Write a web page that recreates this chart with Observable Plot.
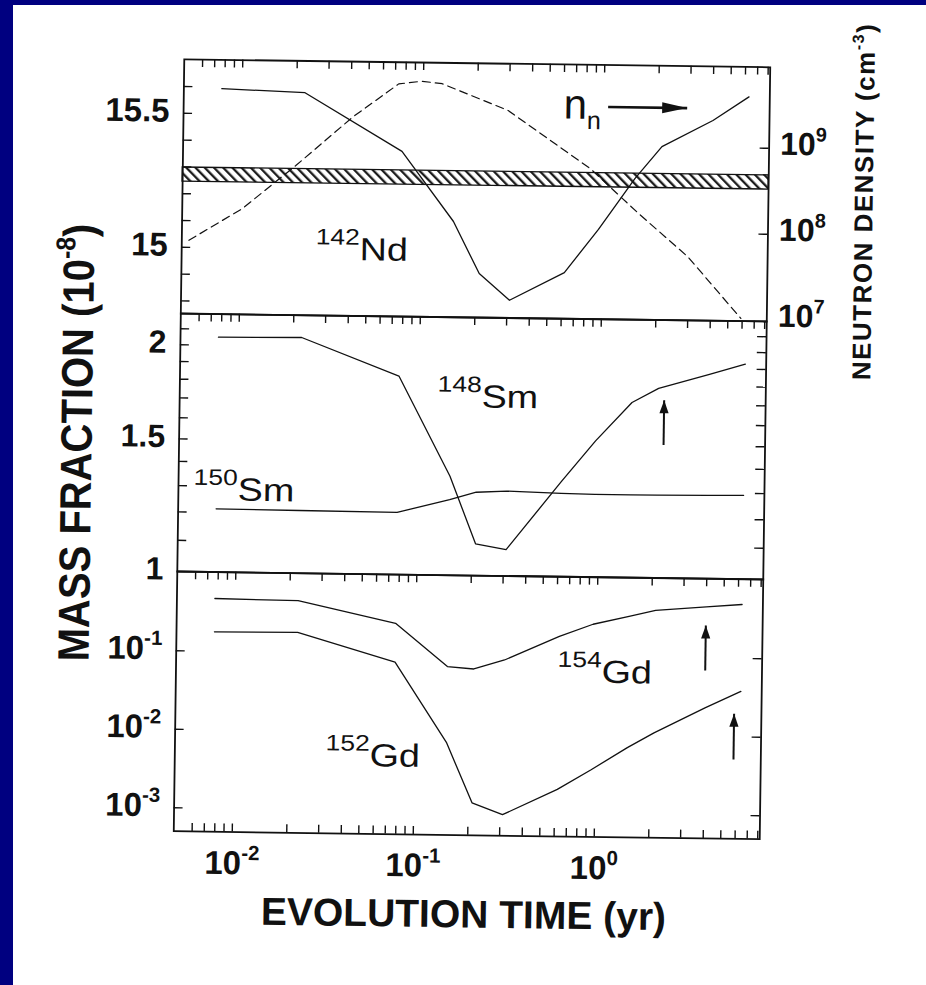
<!DOCTYPE html>
<html><head><meta charset="utf-8">
<script src="https://cdn.jsdelivr.net/npm/d3@7"></script>
<script src="https://cdn.jsdelivr.net/npm/@observablehq/plot@0.6"></script>
<style>
html,body{margin:0;padding:0;background:#fff;}
#page{position:relative;width:926px;height:985px;background:#fff;overflow:hidden;}
#bt{position:absolute;left:0;top:0;width:926px;height:5px;background:#000080;}
#bl{position:absolute;left:0;top:0;width:13px;height:985px;background:#000080;}
#fig{position:absolute;left:0;top:0;width:926px;height:985px;transform-origin:471.5px 448.75px;transform:rotate(0.78deg);}
#fig svg{position:absolute;left:0;top:0;}
</style></head><body>
<div id="page"><div id="fig"></div><div id="bt"></div><div id="bl"></div></div>
<script>
// ---------------- data ----------------
const time   = [0.0077, 0.0222, 0.077, 0.15, 0.21, 0.31, 0.62, 0.95, 1.5, 2.1, 4.0, 6.3];
const nd142  = [15.594, 15.583, 15.369, 15.11, 14.917, 14.819, 14.925, 15.088, 15.28, 15.40, 15.50, 15.59];
const sm148  = [2.05, 2.055, 1.834, 1.353, 1.102, 1.084, 1.338, 1.517, 1.708, 1.785, 1.868, 1.93];
const sm150  = [1.213, 1.211, 1.209, 1.26, 1.29, 1.296, 1.29, 1.288, 1.288, 1.288, 1.29, 1.292];
const gd154  = [0.47, 0.456, 0.244, 0.070, 0.066, 0.087, 0.178, 0.257, 0.328, 0.397, 0.447, 0.487];
const gd152  = [0.177, 0.180, 0.078, 0.0076, 0.0013, 0.00093, 0.0020, 0.0036, 0.0070, 0.0109, 0.0231, 0.038];
const nTime    = [0.0052, 0.0102, 0.02, 0.041, 0.073, 0.098, 0.127, 0.295, 0.49, 0.85, 1.58, 2.98, 5.9];
const nDensity = [6.9e7, 1.64e8, 5.3e8, 1.99e9, 4.9e9, 5.3e9, 5.0e9, 2.5e9, 1.2e9, 5.4e8, 1.66e8, 5.3e7, 1.04e7];
const hatchBand = [15.245, 15.298];

// ticks and tick labels
const xTickValues = [0.006,0.007,0.008,0.009,0.01,0.02,0.03,0.04,0.05,0.06,0.07,0.08,0.09,0.1,0.2,0.3,0.4,0.5,0.6,0.7,0.8,0.9,1,2,3,4,5,6,7,8];
const xLabelValues = [0.01, 0.1, 1];
const xLabelText = ["10^{-2}", "10^{-1}", "10^{0}"];
const ndTicks = [14.8, 14.9, 15.0, 15.1, 15.2, 15.3, 15.4, 15.5, 15.6];
const ndLabelValues = [15, 15.5];
const ndLabelText = ["15", "15.5"];
const densTicks = [1e8, 1e9];
const densLabelValues = [1e7, 1e8, 1e9];
const densLabelText = ["10^{7}", "10^{8}", "10^{9}"];
const smTicks = [1.1, 1.2, 1.3, 1.4, 1.5, 1.6, 1.7, 1.8, 1.9, 2.0, 2.1];
const smLabelValues = [1, 1.5, 2];
const smLabelText = ["1", "1.5", "2"];
const gdTicks = [0.001, 0.01, 0.1];
const gdLabelText = ["10^{-3}", "10^{-2}", "10^{-1}"];

// annotations (data coordinates)
const isoT     = [0.0261, 0.1262, 0.00576, 0.6087, 0.0323];
const isoV     = [14.961, 1.672, 1.245, 0.0463, 0.00366];
const isoText  = ["^{142}Nd", "^{148}Sm", "^{150}Sm", "^{154}Gd", "^{152}Gd"];
const isoPanel = ["A", "B", "B", "C", "C"];
const nnLabel = {t: 0.597, v: 15.50, text: "n_{n}"};
const nnArrow = {from: 1.052, to: 2.875, v: 15.545};
const smArrowT = [2.257], smArrowFrom = [1.502], smArrowTo = [1.722];
const gdArrowT = [3.987, 5.80], gdArrowFrom = [0.0692, 0.00514], gdArrowTo = [0.259, 0.0197];

const titleY = "MASS FRACTION (10^{-8})";
const titleY2 = "NEUTRON DENSITY (cm^{-3})";
const titleX = "EVOLUTION TIME (yr)";

// ---------------- layout ----------------
const W = 926, H = 985;
const FL = 178.5, FR = 764.5;
const PA = [62.75, 317], PB = [317, 575], PC = [575, 834.75];
const xDomain = [0.004751, 8.21];
const INK = "#111";
const FONT = "'Liberation Sans', Arial, Helvetica, sans-serif";
const FW = FR - FL;

const triUp = {draw(ctx) { ctx.moveTo(0, 0); ctx.lineTo(4.6, 13); ctx.lineTo(-4.6, 13); ctx.closePath(); }};
const triRight = {draw(ctx) { ctx.moveTo(0, 0); ctx.lineTo(-25, -5.5); ctx.lineTo(-25, 5.5); ctx.closePath(); }};

function base(p, y, marks) {
  return Plot.plot({
    width: W, height: H,
    marginLeft: FL, marginRight: W - FR, marginTop: p[0], marginBottom: H - p[1],
    style: {background: "transparent", overflow: "visible", fontFamily: FONT},
    x: {type: "log", domain: xDomain, axis: null},
    y: {...y, axis: null},
    marks
  });
}
const series = (xs, ys) => xs.map((t, i) => ({t, v: ys[i]}));
const topTicks = (p) => Plot.tickX(xTickValues, {x: d => d, insetBottom: (p[1] - p[0]) - 8, stroke: INK, strokeWidth: 1.4});
const leftTicks = (vals) => Plot.tickY(vals, {y: d => d, insetRight: FW - 9, stroke: INK, strokeWidth: 1.4});
const rightTicks = (vals) => Plot.tickY(vals, {y: d => d, insetLeft: FW - 9, stroke: INK, strokeWidth: 1.4});
const leftLabels = (vals, txt, fs) => Plot.text(vals, {y: d => d, text: (d, i) => txt[i], frameAnchor: "left", textAnchor: "end", dx: -14, dy: -2, fontSize: fs, fontWeight: "bold", fill: INK, fontFamily: FONT});
const isoMarks = (panel) => {
  const idx = isoT.map((_, i) => i).filter(i => isoPanel[i] === panel);
  return Plot.text(idx, {x: i => isoT[i], y: i => isoV[i], text: i => isoText[i], textAnchor: "start", lineAnchor: "bottom", fontSize: 32, fill: INK, fontFamily: FONT});
};
const frame = () => Plot.frame({stroke: INK, strokeWidth: 1.8});

// ---------- panel A (142Nd, left linear axis) ----------
const A1 = base(PA, {type: "linear", domain: [14.7528, 15.7015]}, [
  Plot.rect([hatchBand], {x1: xDomain[0], x2: xDomain[1], y1: d => d[0], y2: d => d[1], fill: "url(#hatch)", stroke: INK, strokeWidth: 1.4}),
  Plot.line(series(time, nd142), {x: "t", y: "v", stroke: INK, strokeWidth: 1.3}),
  topTicks(PA),
  leftTicks(ndTicks),
  leftLabels(ndLabelValues, ndLabelText, 33),
  isoMarks("A"),
  Plot.text([nnLabel], {x: "t", y: "v", text: "text", textAnchor: "start", lineAnchor: "bottom", fontSize: 42, fill: INK, fontFamily: FONT}),
  Plot.link([nnArrow], {x1: "from", x2: "to", y1: "v", y2: "v", stroke: INK, strokeWidth: 2.6}),
  Plot.dot([nnArrow], {x: "to", y: "v", symbol: triRight, fill: INK, r: 5}),
  frame()
]);

// ---------- panel A overlay (neutron density, right log axis) ----------
const A2 = base(PA, {type: "log", domain: [10 ** 6.9855, 10 ** 9.942]}, [
  Plot.line(series(nTime, nDensity), {x: "t", y: "v", stroke: INK, strokeWidth: 1.2, strokeDasharray: "8,5"}),
  rightTicks(densTicks),
  Plot.text(densLabelValues, {y: d => d, text: (d, i) => densLabelText[i], frameAnchor: "right", textAnchor: "start", dx: 11, dy: -4, fontSize: 32, fontWeight: "bold", fill: INK, fontFamily: FONT}),
  Plot.text([titleY2], {text: d => d, frameAnchor: "right", textAnchor: "middle", dx: 96, dy: 5.8, rotate: -90, fontSize: 26, fontWeight: "bold", fill: INK, fontFamily: FONT})
]);

// ---------- panel B (Sm, log axis) ----------
const B = base(PB, {type: "log", domain: [1.0, 2.2]}, [
  Plot.line(series(time, sm148), {x: "t", y: "v", stroke: INK, strokeWidth: 1.3}),
  Plot.line(series(time, sm150), {x: "t", y: "v", stroke: INK, strokeWidth: 1.3}),
  topTicks(PB),
  leftTicks(smTicks),
  rightTicks(smTicks),
  leftLabels(smLabelValues, smLabelText, 32),
  isoMarks("B"),
  Plot.link(smArrowT.map((_, i) => i), {x1: i => smArrowT[i], x2: i => smArrowT[i], y1: i => smArrowFrom[i], y2: i => smArrowTo[i], stroke: INK, strokeWidth: 2}),
  Plot.dot(smArrowT.map((_, i) => i), {x: i => smArrowT[i], y: i => smArrowTo[i], symbol: triUp, fill: INK, r: 5}),
  Plot.text([titleY], {text: d => d, frameAnchor: "left", textAnchor: "middle", dx: -101.6, dy: 1.4, rotate: -90, fontSize: 40, fontWeight: "bold", fill: INK, fontFamily: FONT}),
  frame()
]);

// ---------- panel C (Gd, log axis) ----------
const C = base(PC, {type: "log", domain: [10 ** -3.299, 10 ** 0.0096]}, [
  Plot.line(series(time, gd154), {x: "t", y: "v", stroke: INK, strokeWidth: 1.3}),
  Plot.line(series(time, gd152), {x: "t", y: "v", stroke: INK, strokeWidth: 1.3}),
  topTicks(PC),
  Plot.tickX(xTickValues, {x: d => d, insetTop: (PC[1] - PC[0]) - 8, stroke: INK, strokeWidth: 1.4}),
  leftTicks(gdTicks),
  rightTicks(gdTicks),
  leftLabels(gdTicks, gdLabelText, 33),
  Plot.text(xLabelValues, {x: d => d, text: (d, i) => xLabelText[i], frameAnchor: "bottom", lineAnchor: "bottom", dy: 42, fontSize: 33, fontWeight: "bold", fill: INK, fontFamily: FONT}),
  isoMarks("C"),
  Plot.link(gdArrowT.map((_, i) => i), {x1: i => gdArrowT[i], x2: i => gdArrowT[i], y1: i => gdArrowFrom[i], y2: i => gdArrowTo[i], stroke: INK, strokeWidth: 2}),
  Plot.dot(gdArrowT.map((_, i) => i), {x: i => gdArrowT[i], y: i => gdArrowTo[i], symbol: triUp, fill: INK, r: 5}),
  Plot.text([titleX], {text: d => d, frameAnchor: "bottom", textAnchor: "middle", lineAnchor: "bottom", dx: -2.2, dy: 92.25, fontSize: 39, fontWeight: "bold", fill: INK, fontFamily: FONT}),
  frame()
]);

// ---------- hatch pattern ----------
const NS = "http://www.w3.org/2000/svg";
{
  const defs = document.createElementNS(NS, "defs");
  const pat = document.createElementNS(NS, "pattern");
  pat.setAttribute("id", "hatch");
  pat.setAttribute("patternUnits", "userSpaceOnUse");
  pat.setAttribute("width", "6.6");
  pat.setAttribute("height", "6.6");
  pat.setAttribute("patternTransform", "rotate(-45)");
  const bg = document.createElementNS(NS, "rect");
  bg.setAttribute("width", "6.6"); bg.setAttribute("height", "6.6"); bg.setAttribute("fill", "#fff");
  const ln = document.createElementNS(NS, "line");
  ln.setAttribute("x1", "1.2"); ln.setAttribute("x2", "1.2"); ln.setAttribute("y1", "0"); ln.setAttribute("y2", "6.6");
  ln.setAttribute("stroke", INK); ln.setAttribute("stroke-width", "2.2");
  pat.appendChild(bg); pat.appendChild(ln); defs.appendChild(pat);
  A1.insertBefore(defs, A1.firstChild);
}

// ---------- superscripts / subscripts as tspans ----------
function addTransform(t, extra) {
  t.setAttribute("transform", (t.getAttribute("transform") || "") + " " + extra);
}
function supify(svg) {
  svg.querySelectorAll("text").forEach(t => {
    const s = t.textContent;
    if (!/[\^_]\{/.test(s)) return;
    const isIso = isoText.includes(s);
    const sc = isIso ? 0.7 : 0.62;
    const up = isIso ? -0.48 : -0.43;
    const parts = s.split(/([\^_]\{[^}]*\})/).filter(p => p !== "");
    while (t.firstChild) t.removeChild(t.firstChild);
    let shift = 0;
    for (const p of parts) {
      const ts = document.createElementNS(NS, "tspan");
      const m = p.match(/^([\^_])\{([^}]*)\}$/);
      if (m) {
        const k = m[1] === "^" ? sc : 0.6;
        const target = m[1] === "^" ? up : 0.24;
        ts.style.fontSize = (k * 100) + "%";
        ts.setAttribute("dy", ((target - shift) / k).toFixed(3) + "em");
        shift = target;
        ts.textContent = m[2];
      } else {
        if (shift !== 0) { ts.setAttribute("dy", (-shift).toFixed(3) + "em"); shift = 0; }
        ts.textContent = p;
      }
      t.appendChild(ts);
    }
    // the scanned lettering is a little wider than Helvetica
    if (isIso) addTransform(t, "scale(1.18,1)");
    if (s === titleY) addTransform(t, "scale(1,1.1)");
    if (s === titleY2) t.style.letterSpacing = "1.5px";
  });
}

const fig = document.getElementById("fig");
for (const s of [A1, A2, B, C]) { fig.appendChild(s); supify(s); }
</script></body></html>
